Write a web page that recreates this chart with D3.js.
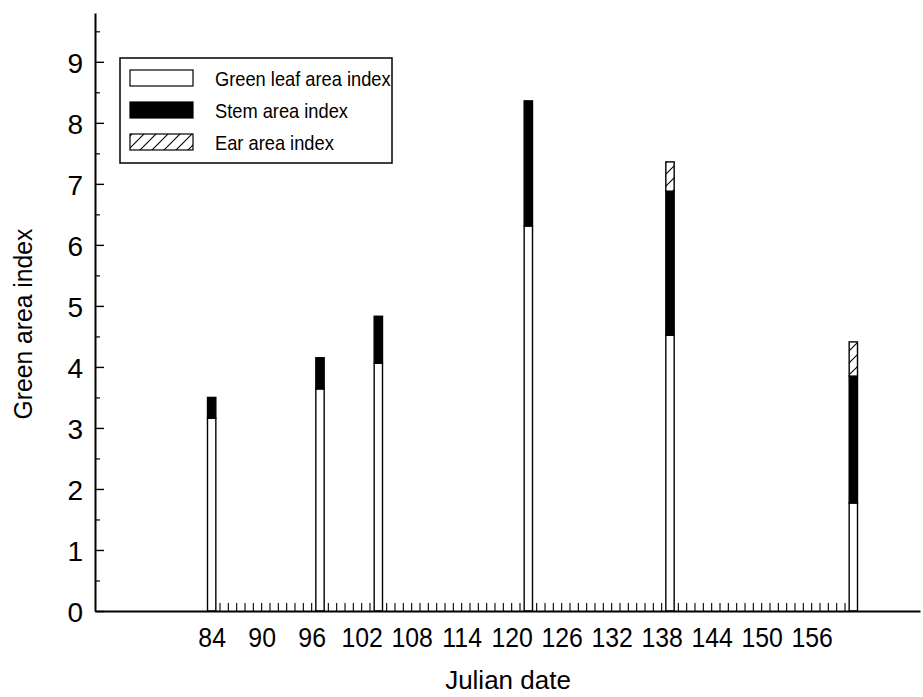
<!DOCTYPE html>
<html>
<head>
<meta charset="utf-8">
<script src="https://cdn.jsdelivr.net/npm/d3@7"></script>
<style>
  body { margin: 0; background: #fff; }
  svg { display: block; }
  text { font-family: "Liberation Sans", Arial, Helvetica, sans-serif; fill: #000; }
</style>
</head>
<body>
<svg id="chart" width="923" height="697"></svg>
<script>
// Sampling dates (Julian day) and area indices per component
const days = [84, 97, 104, 122, 139, 161];
const leafArea = [3.16, 3.64, 4.06, 6.31, 4.52, 1.77];
const stemArea = [0.34, 0.51, 0.77, 2.05, 2.36, 2.08];
const earArea = [0, 0, 0, 0, 0.48, 0.56];

const seriesKeys = ["leaf", "stem", "ear"];
const seriesNames = ["Green leaf area index", "Stem area index", "Ear area index"];
const dayTickLabels = [84, 90, 96, 102, 108, 114, 120, 126, 132, 138, 144, 150, 156];
const yTickValues = [0, 1, 2, 3, 4, 5, 6, 7, 8, 9];
const yMinorValues = [0.5, 1.5, 2.5, 3.5, 4.5, 5.5, 6.5, 7.5, 8.5, 9.5];

const svg = d3.select("#chart");

const x = d3.scaleLinear().domain([70, 169]).range([95, 920]);
const y = d3.scaleLinear().domain([0, 9.8]).range([611, 13]);

// hatch for the ear component
const defs = svg.append("defs");
defs.append("pattern")
  .attr("id", "hatch")
  .attr("patternUnits", "userSpaceOnUse")
  .attr("width", 12).attr("height", 12)
  .call(p => {
    p.append("rect").attr("width", 12).attr("height", 12).attr("fill", "#fff");
    p.append("path")
      .attr("d", "M0,12 L12,0 M-3,3 L3,-3 M9,15 L15,9")
      .attr("stroke", "#000").attr("stroke-width", 1.1);
  });

// daily ticks along the baseline
svg.append("g").selectAll("line")
  .data(d3.range(days[0], days[days.length - 1] + 1))
  .join("line")
  .attr("x1", d => x(d)).attr("x2", d => x(d))
  .attr("y1", y(0)).attr("y2", y(0) - 8)
  .attr("stroke", "#000").attr("stroke-width", 1.1);

// stacked bars
const rows = days.map((d, i) => ({ day: d, leaf: leafArea[i], stem: stemArea[i], ear: earArea[i] }));
const stacked = d3.stack().keys(seriesKeys)(rows);
const fills = { leaf: "#fff", stem: "#000", ear: "url(#hatch)" };
const halfWidth = 0.5;

svg.append("g").selectAll("g")
  .data(stacked)
  .join("g")
  .attr("fill", s => fills[s.key])
  .selectAll("rect")
  .data(s => s.filter(seg => seg[1] - seg[0] > 0))
  .join("rect")
  .attr("x", seg => x(seg.data.day - halfWidth))
  .attr("width", seg => x(seg.data.day + halfWidth) - x(seg.data.day - halfWidth))
  .attr("y", seg => y(seg[1]))
  .attr("height", seg => y(seg[0]) - y(seg[1]))
  .attr("stroke", "#000")
  .attr("stroke-width", 1.4);

// x axis
const xAxis = svg.append("g")
  .attr("transform", `translate(0,${y(0)})`)
  .call(d3.axisBottom(x).tickValues(dayTickLabels).tickSize(0).tickPadding(0).tickFormat(d3.format("d")));
xAxis.select(".domain").attr("stroke-width", 2);
xAxis.selectAll("text")
  .attr("y", 0).attr("dy", 0)
  .attr("transform", "translate(0,36) scale(0.92,1)")
  .style("font-size", "27px")
  .attr("font-family", null);

// y axis
const yAxis = svg.append("g")
  .attr("transform", `translate(${x(70)},0)`)
  .call(d3.axisLeft(y).tickValues(yTickValues).tickSizeInner(-9).tickSizeOuter(0).tickPadding(12));
yAxis.select(".domain").attr("stroke-width", 2);
yAxis.selectAll(".tick line").attr("stroke-width", 1.4);
yAxis.selectAll("text")
  .attr("dy", "0.38em")
  .style("font-size", "28px")
  .attr("font-family", null);

const yMinor = svg.append("g")
  .attr("transform", `translate(${x(70)},0)`)
  .call(d3.axisLeft(y).tickValues(yMinorValues).tickSizeInner(-5).tickSizeOuter(0).tickFormat(""));
yMinor.select(".domain").remove();
yMinor.selectAll(".tick line").attr("stroke-width", 1.2);

// axis titles
svg.append("text")
  .attr("transform", "translate(508,689)")
  .attr("text-anchor", "middle")
  .style("font-size", "26px")
  .text("Julian date");

svg.append("text")
  .attr("transform", "translate(32,324) rotate(-90) scale(0.95,1)")
  .attr("text-anchor", "middle")
  .style("font-size", "26px")
  .text("Green area index");

// legend
const legend = svg.append("g");
legend.append("rect")
  .attr("x", 120).attr("y", 58).attr("width", 272).attr("height", 105)
  .attr("fill", "#fff").attr("stroke", "#000").attr("stroke-width", 1.5);

const legendRows = legend.selectAll("g.item")
  .data(seriesKeys)
  .join("g")
  .attr("class", "item")
  .attr("transform", (k, i) => `translate(0,${70 + i * 32})`);

legendRows.append("rect")
  .attr("x", 130).attr("y", 0).attr("width", 63).attr("height", 16)
  .attr("fill", k => fills[k])
  .attr("stroke", "#000").attr("stroke-width", 1.2);

legendRows.append("text")
  .attr("transform", "translate(215,16) scale(0.87,1)")
  .style("font-size", "21px")
  .text((k, i) => seriesNames[i]);
</script>
</body>
</html>
